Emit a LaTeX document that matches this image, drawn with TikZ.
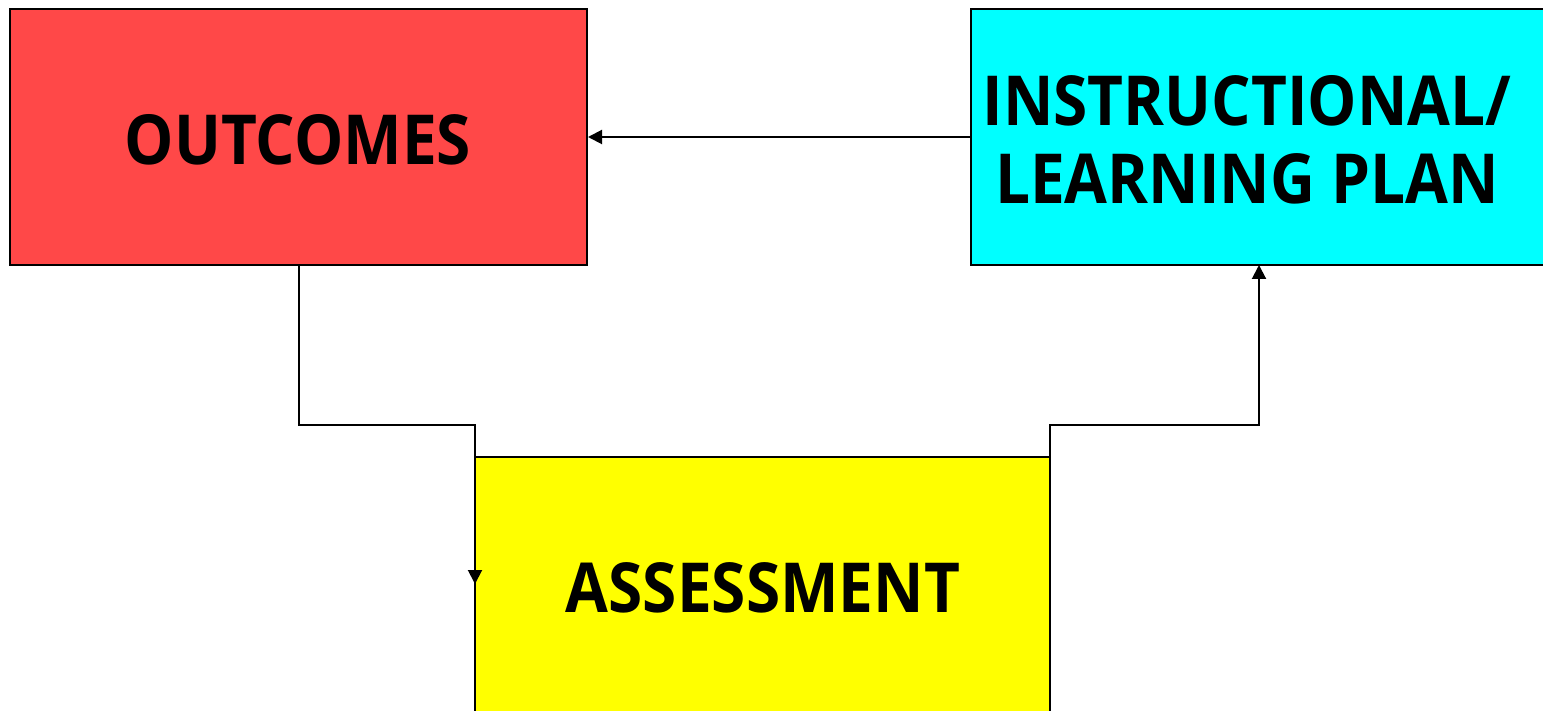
\documentclass[tikz,border=0pt]{standalone}
\usepackage{fontspec}
\setmainfont{Open Sans}[FakeStretch=0.9]
\usetikzlibrary{arrows.meta}
\definecolor{outred}{HTML}{FF4848}
\definecolor{inscyan}{HTML}{00FFFF}
\definecolor{assyel}{HTML}{FFFF00}
\begin{document}
\begin{tikzpicture}[x=0.5pt,y=-0.5pt,
  box/.style={draw=black,line width=1pt,inner sep=0pt},
  lbl/.style={font=\fontsize{34.5}{39}\selectfont\bfseries,align=center,inner sep=0pt},
  conn/.style={draw=black,line width=1pt,-{Triangle[length=7pt,width=7pt]}}]
\useasboundingbox (0,0) rectangle (1543,711);
\node[box,fill=outred,minimum width=288.5pt,minimum height=128pt] (outcomes) at (298.5,137) {};
\node[box,fill=inscyan,minimum width=300pt,minimum height=128pt] (instr) at (1271,137) {};
\node[box,fill=assyel,minimum width=287.5pt,minimum height=140pt] (assess) at (762.5,597) {};
\node[lbl] (outtext) at (298,140) {OUTCOMES};
\node[lbl] (instext) at (1247,140) {INSTRUCTIONAL/\\LEARNING PLAN};
\node[lbl] (asstext) at (763,588) {ASSESSMENT};
\coordinate (aIn) at (475,584);
\coordinate (aOut) at (1050,584);
\coordinate (iIn) at (1259,265);
\coordinate (bendL) at (475,425);
\coordinate (bendR) at (1050,425);
\draw[conn] (instr.west |- outcomes.east) -- (outcomes.east);
\draw[conn] (outcomes.south) |- (bendL) -- (aIn);
\draw[conn] (aOut) -- (bendR) -| (iIn);
\end{tikzpicture}
\end{document}
